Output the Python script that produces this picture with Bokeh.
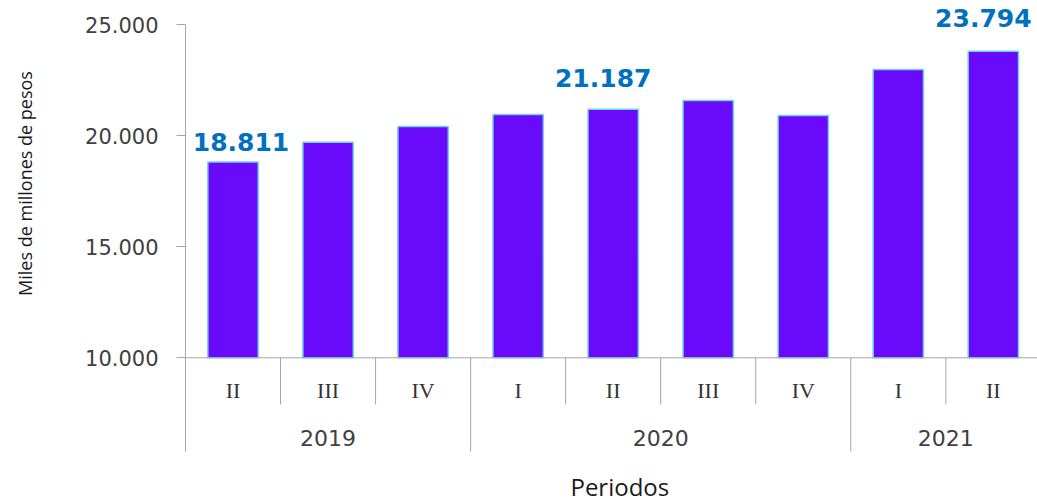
import math
from bokeh.plotting import figure
from bokeh.models import Range1d, FixedTicker, ColumnDataSource
from bokeh.core.properties import value
from bokeh.embed import file_html
from bokeh.resources import INLINE

# ---- data ----
years = ["2019", "2020", "2021"]
quarters_by_year = [["II", "III", "IV"], ["I", "II", "III", "IV"], ["I", "II"]]
values = [18811, 19700, 20410, 20950, 21187, 21580, 20900, 22970, 23794]
labeled_idx = [0, 4, 8]
y_ticks = [10000, 15000, 20000, 25000]
y_title = "Miles de millones de pesos"
x_title = "Periodos"

# ---- derived ----
quarters = [q for qs in quarters_by_year for q in qs]
xs = [i + 0.5 for i in range(len(quarters))]
bounds = [0]
for qs in quarters_by_year:
    bounds.append(bounds[-1] + len(qs))
year_centers = [(a + b) / 2 for a, b in zip(bounds[:-1], bounds[1:])]
short_seps = [i for i in range(1, len(quarters)) if i not in bounds]
long_seps = [b for b in bounds[1:-1]]

W, H = 1037, 504
left = 185
base_px = 357.3                       # pixel row of the base tick
base = y_ticks[0]
px_per_unit = 333.3 / (y_ticks[-1] - y_ticks[0])
slot_px = 95.04

def below(px):
    return base - px / px_per_unit

y_lo = below(H - base_px)
y_hi = base + base_px / px_per_unit
q_sep_end = below(46.7)
y_sep_end = below(93.7)
q_label_y = below(32.7)
yr_label_y = below(79.7)
title_y = below(129)
ytitle_x = (24 - left) / slot_px
ytitle_y = base + (base_px - 183) / px_per_unit

p = figure(width=W, height=H, output_backend="svg", toolbar_location=None,
           x_range=Range1d(-left / slot_px, (W - left) / slot_px),
           y_range=Range1d(y_lo, y_hi),
           x_axis_location=None, min_border=0, outline_line_color=None)
p.grid.visible = False

# y axis, pinned at the start of the category axis
ax = p.yaxis[0]
ax.fixed_location = 0
ax.ticker = FixedTicker(ticks=y_ticks)
ax.major_label_overrides = {t: f"{t:,}".replace(",", ".") for t in y_ticks}
ax.bounds = (y_sep_end, y_ticks[-1])
ax.axis_line_color = "#A6A6A6"
ax.major_tick_line_color = "#A6A6A6"
ax.major_tick_out = 9
ax.major_tick_in = 0
ax.minor_tick_line_color = None
ax.major_label_standoff = 18
ax.major_label_text_font = "DejaVu Sans"
ax.major_label_text_font_size = "21px"
ax.major_label_text_color = "#404040"

# y title
p.text(x=[ytitle_x], y=[ytitle_y], text=[y_title], angle=math.pi / 2,
       text_align="center", text_baseline="middle", text_font=value("Open Sans"),
       text_font_size="18px", text_color="#1a1a1a")

# bars
src = ColumnDataSource(dict(x=xs, top=values))
p.vbar(x="x", top="top", bottom=base, width=0.53, source=src,
       fill_color="#6A0AFA", line_color="#6FD3EC", line_width=1.5)

# value labels
label_dx = [8, -10, -10]
label_dy = [-20, -31, -33]
lsrc = ColumnDataSource(dict(
    x=[xs[i] for i in labeled_idx],
    y=[values[i] for i in labeled_idx],
    t=[f"{values[i]:,}".replace(",", ".") for i in labeled_idx],
    dx=label_dx, dy=label_dy))
p.text(x="x", y="y", text="t", x_offset="dx", y_offset="dy", source=lsrc,
       text_align="center", text_baseline="alphabetic",
       text_font=value("DejaVu Sans"), text_font_style="bold",
       text_font_size="25px", text_color="#0070C0")

# category axis drawn in the frame
p.segment(x0=0, y0=base, x1=len(quarters) + 1, y1=base, line_color="#A6A6A6", line_width=1)
p.segment(x0=short_seps, y0=base, x1=short_seps, y1=q_sep_end, line_color="#A6A6A6", line_width=1)
p.segment(x0=long_seps, y0=base, x1=long_seps, y1=y_sep_end, line_color="#A6A6A6", line_width=1)

p.text(x=xs, y=[q_label_y] * len(xs), text=quarters, text_align="center",
       text_baseline="middle", text_font=value("Liberation Serif"),
       text_font_size="22px", text_color="#333333")
p.text(x=year_centers, y=[yr_label_y] * len(years), text=years, text_align="center",
       text_baseline="middle", text_font=value("DejaVu Sans"),
       text_font_size="22px", text_color="#404040")
p.text(x=[len(quarters) / 2 + 0.07], y=[title_y], text=[x_title], text_align="center",
       text_baseline="alphabetic", text_font=value("Open Sans"),
       text_font_size="24px", text_color="#1a1a1a")

open("out.html", "w").write(file_html(p, INLINE))
